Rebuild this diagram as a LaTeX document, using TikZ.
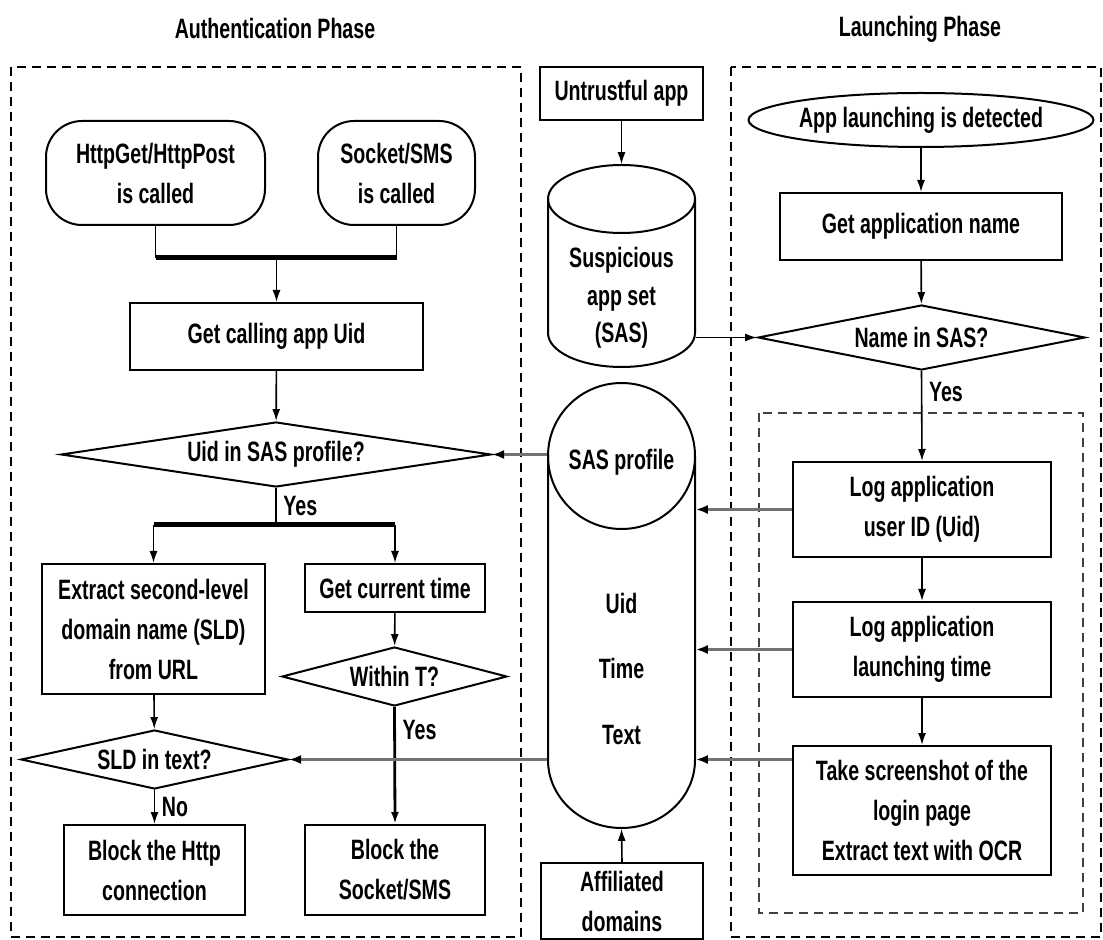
\documentclass[tikz,border=0pt]{standalone}
\usepackage{fontspec}
\setmainfont{Liberation Sans}[FakeStretch=0.7]
\usetikzlibrary{shapes.geometric,arrows.meta,calc}

\tikzset{
  every node/.style={font=\fontsize{14}{20}\selectfont\bfseries, align=center},
  box/.style={draw, line width=1pt, inner sep=0pt},
  startbox/.style={box, rounded corners=18pt},
  decision/.style={box, diamond, aspect=5},
  joinbar/.style={line width=2.5pt},
  feedarrow/.style={-{Latex[length=6pt,width=4.5pt,color=black]}, line width=1.6pt, draw=black!55},
  phaseframe/.style={line width=1pt, dash pattern=on 4.5pt off 3pt},
  cylline/.style={line width=1pt},
}

\begin{document}
\begin{tikzpicture}[x=0.5pt,y=-0.5pt,line width=0.8pt,>={Latex[length=6pt,width=4pt]}]
\useasboundingbox (0,0) rectangle (1103,940);

% the two phases
\draw[phaseframe] (11,67) rectangle (521,937);
\draw[phaseframe] (731,67) rectangle (1101,937);
\draw[phaseframe, line width=1.3pt, draw=black!75] (759,413) rectangle (1083,913);
\node (authtitle) at (275,29) {Authentication Phase};
\node (launchtitle) at (920,29) {Launching Phase};

% authentication phase
\node[startbox, minimum width=109.5pt, minimum height=52pt] (http) at (155.5,173) {HttpGet/HttpPost\\is called};
\node[startbox, minimum width=78.5pt, minimum height=52pt] (socket) at (396.5,173) {Socket/SMS\\is called};
\node[box, minimum width=146.5pt, minimum height=33.5pt] (getuid) at (276.5,336.5) {Get calling app Uid};
\node[decision, minimum width=215pt, minimum height=32.5pt] (uidq) at (276,454.5) {Uid in SAS profile?};
\node[box, minimum width=111.5pt, minimum height=65pt] (extract) at (153.5,629) {Extract second-level\\domain name (SLD)\\from URL};
\node[box, minimum width=90pt, minimum height=24pt] (curtime) at (395,588) {Get current time};
\node[decision, minimum width=112.5pt, minimum height=29.5pt] (within) at (394.5,676.5) {Within T?};
\node[decision, minimum width=133.5pt, minimum height=29.5pt] (sld) at (154.5,759.5) {SLD in text?};
\node[box, minimum width=90.5pt, minimum height=45pt] (blockhttp) at (154.5,870) {Block the Http\\connection};
\node[box, minimum width=90pt, minimum height=45pt] (blocksock) at (395,870) {Block the\\Socket/SMS};

% middle column: stores
\node[box, minimum width=81.5pt, minimum height=26.5pt] (untrusted) at (621.5,93.5) {Untrustful app};
\node[inner sep=0pt, minimum width=73.5pt, minimum height=101pt] (sas) at (621.5,266) {};
\draw[cylline] (548,199) -- (548,333) arc[start angle=180, end angle=360, x radius=36.75pt, y radius=17pt] -- (695,199);
\draw[cylline] (621.5,199) ellipse[x radius=36.75pt, y radius=17pt];
\node[font=\fontsize{14}{18.75}\selectfont\bfseries] (sastext) at (621.5,298) {Suspicious\\app set\\(SAS)};

\node[inner sep=0pt, minimum width=73.5pt, minimum height=222.5pt] (profile) at (621.5,605.5) {};
\draw[cylline] (548,456) -- (548,760) arc[start angle=180, end angle=360, x radius=36.75pt, y radius=34pt] -- (695,456);
\draw[cylline] (621.5,456) ellipse[x radius=36.75pt, y radius=36.5pt];
\node (proftitle) at (621.5,462) {SAS profile};
\node (uidfield) at (621.5,603) {Uid};
\node (timefield) at (621.5,668) {Time};
\node (textfield) at (621.5,735) {Text};
\node[box, minimum width=81pt, minimum height=38pt] (affil) at (622,901) {Affiliated\\domains};

% launching phase
\node[box, ellipse, minimum width=169pt, minimum height=27pt] (launch) at (921,120) {App launching is detected};
\node[box, minimum width=141pt, minimum height=33.5pt] (appname) at (921,226.5) {Get application name};
\node[decision, minimum width=163.5pt, minimum height=32.5pt] (namesas) at (921.5,337.5) {Name in SAS?};
\node[box, minimum width=129pt, minimum height=47.5pt] (log1) at (922,509.5) {Log application\\user ID (Uid)};
\node[box, minimum width=129pt, minimum height=47.5pt] (log2) at (922,649.5) {Log application\\launching time};
\node[box, minimum width=129pt, minimum height=64.5pt] (log3) at (922,810.5) {Take screenshot of the\\login page\\Extract text with OCR};

% connectors, authentication phase
\coordinate (join) at (276,258);
\draw (http.south) -- (http.south |- join);
\draw (socket.south) -- (socket.south |- join);
\draw[joinbar] (http.south |- join) -- (socket.south |- join);
\draw[->] (getuid.north |- join) -- (getuid.north);
\draw[->] (getuid) -- (uidq);
\coordinate (split) at (276,525);
\draw (uidq.south) -- node[right]{Yes} (uidq.south |- split);
\draw[joinbar] (extract.north |- split) -- (curtime.north |- split);
\draw[->] (extract.north |- split) -- (extract.north);
\draw[->] (curtime.north |- split) -- (curtime.north);
\draw[->] (curtime) -- (within);
\draw[->, line width=1.4pt] (within.south) -- node[right, pos=0.2]{Yes} (blocksock.north);
\draw[->] (extract) -- (sld);
\draw[->] (sld.south) -- node[right]{No} (blockhttp.north);

% connectors, stores
\draw[->] (untrusted.south) -- (sas.north);
\draw[->] (sas.east |- namesas.west) -- (namesas.west);
\draw[->] (affil.north) -- (profile.south);
\draw[feedarrow] (profile.west |- uidq.east) -- (uidq.east);
\draw[feedarrow] (profile.west |- sld.east) -- (sld.east);

% connectors, launching phase
\draw[->] (launch) -- (appname);
\draw[->] (appname) -- (namesas);
\draw[->] (namesas.south) -- node[right, pos=0.23]{Yes} (log1.north);
\draw[->] (log1) -- (log2);
\draw[->] (log2) -- (log3);
\draw[feedarrow] (log1.west) -- (log1.west -| profile.east);
\draw[feedarrow] (log2.west) -- (log2.west -| profile.east);
\draw[feedarrow] (log3.west |- sld.east) -- (profile.east |- sld.east);
\end{tikzpicture}
\end{document}
